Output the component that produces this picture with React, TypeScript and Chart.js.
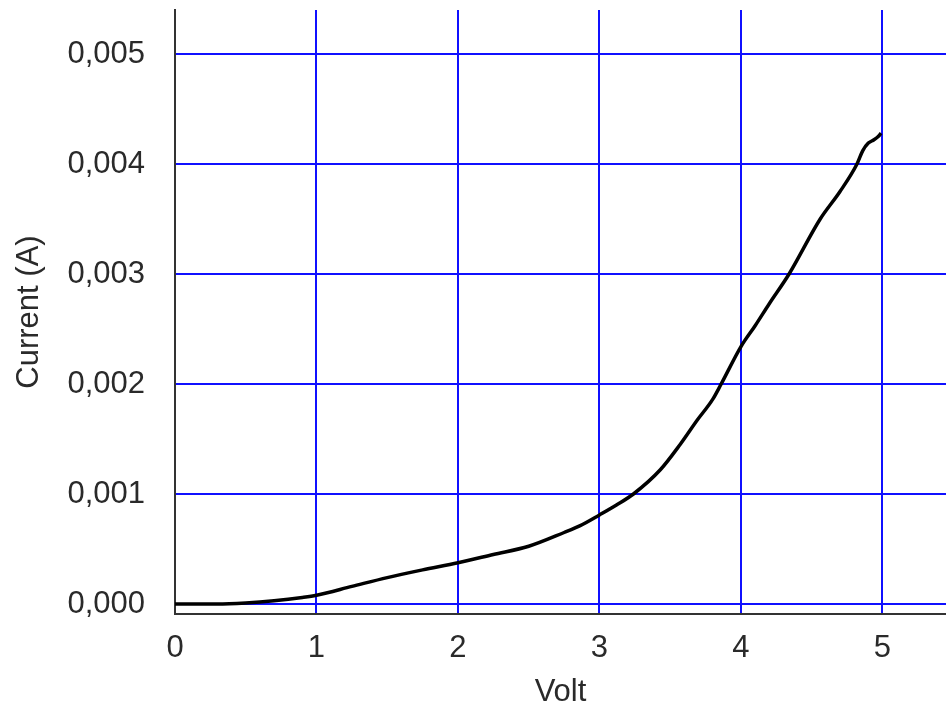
import React, { useEffect, useRef } from "react";
import { Chart, registerables } from "chart.js";

Chart.register(...registerables);

const voltage = [
  0, 0.1, 0.2, 0.3, 0.5, 0.7, 0.9, 1.0, 1.25, 1.5, 1.75, 2.0, 2.25, 2.5,
  2.75, 2.86, 3.0, 3.12, 3.24, 3.43, 3.57, 3.69, 3.8, 3.86, 4.0, 4.1, 4.2, 4.34,
  4.56, 4.7, 4.82, 4.86, 4.9, 4.94, 4.97, 4.99,
];
const current = [
  0, 0, 0, 0, 0.00001, 0.00003, 0.00006, 0.00008, 0.00016, 0.00024,
  0.00031, 0.000375, 0.00045, 0.000525, 0.00065, 0.00071, 0.00081, 0.0009,
  0.001, 0.00122, 0.00145, 0.00167, 0.00186, 0.002, 0.00234, 0.00253, 0.00273,
  0.003, 0.0035, 0.00375, 0.004, 0.00412, 0.00419, 0.00422, 0.00425, 0.00428,
];
const xTicks = [0, 1, 2, 3, 4, 5];
const yTicks = [0, 0.001, 0.002, 0.003, 0.004, 0.005];
const xTitle = "Volt";
const yTitle = "Current (A)";

const FONT = "'Liberation Sans', Arial, sans-serif";

export default function App() {
  const ref = useRef<HTMLCanvasElement | null>(null);

  useEffect(() => {
    const canvas = ref.current;
    if (!canvas) return;
    const chart = new Chart(canvas, {
      type: "line",
      data: {
        datasets: [
          {
            data: voltage.map((v, i) => ({ x: v, y: current[i] })),
            borderColor: "#000000",
            borderWidth: 3.5,
            pointRadius: 0,
            cubicInterpolationMode: "monotone",
            fill: false,
          },
        ],
      },
      options: {
        animation: false,
        responsive: false,
        devicePixelRatio: 1,
        layout: { padding: { top: 10, right: 0, left: 0, bottom: 0 } },
        plugins: { legend: { display: false }, tooltip: { enabled: false } },
        scales: {
          x: {
            type: "linear",
            min: 0,
            max: 5.449,
            afterBuildTicks: (s: any) => {
              s.ticks = xTicks.map((v) => ({ value: v }));
            },
            afterFit: (s: any) => {
              s.height = 97;
              s.paddingLeft = 0;
              s.paddingRight = 0;
            },
            grid: {
              drawTicks: false,
              lineWidth: 2,
              color: (c: any) => (c.tick && c.tick.value === 0 ? "rgba(0,0,0,0)" : "#1010ff"),
            },
            border: { display: true, color: "#333333", width: 2 },
            ticks: {
              padding: 16,
              color: "#2a2a2a",
              font: { family: FONT, size: 31 },
              maxRotation: 0,
              callback: (v: any) => String(v),
            },
            title: {
              display: true,
              text: xTitle,
              color: "#2a2a2a",
              font: { family: FONT, size: 31 },
              padding: { top: 0, bottom: 0 },
            },
          },
          y: {
            type: "linear",
            min: -0.0000909,
            max: 0.0054,
            afterBuildTicks: (s: any) => {
              s.ticks = yTicks.map((v) => ({ value: v }));
            },
            afterFit: (s: any) => {
              s.width = 175;
              s.paddingTop = 0;
              s.paddingBottom = 0;
            },
            grid: {
              drawTicks: false,
              lineWidth: 2,
              color: "#1010ff",
            },
            border: { display: true, color: "#333333", width: 2 },
            ticks: {
              padding: 30,
              color: "#2a2a2a",
              font: { family: FONT, size: 31 },
              callback: (v: any) => Number(v).toFixed(3).replace(".", ","),
            },
            title: {
              display: true,
              text: yTitle,
              color: "#2a2a2a",
              font: { family: FONT, size: 31 },
              padding: { top: 11, bottom: 0 },
            },
          },
        },
      },
    });
    return () => chart.destroy();
  }, []);

  return (
    <div style={{ position: "absolute", left: 0, top: 0, width: 946, height: 711, background: "#ffffff" }}>
      <canvas ref={ref} width={946} height={711} style={{ display: "block" }} />
    </div>
  );
}
